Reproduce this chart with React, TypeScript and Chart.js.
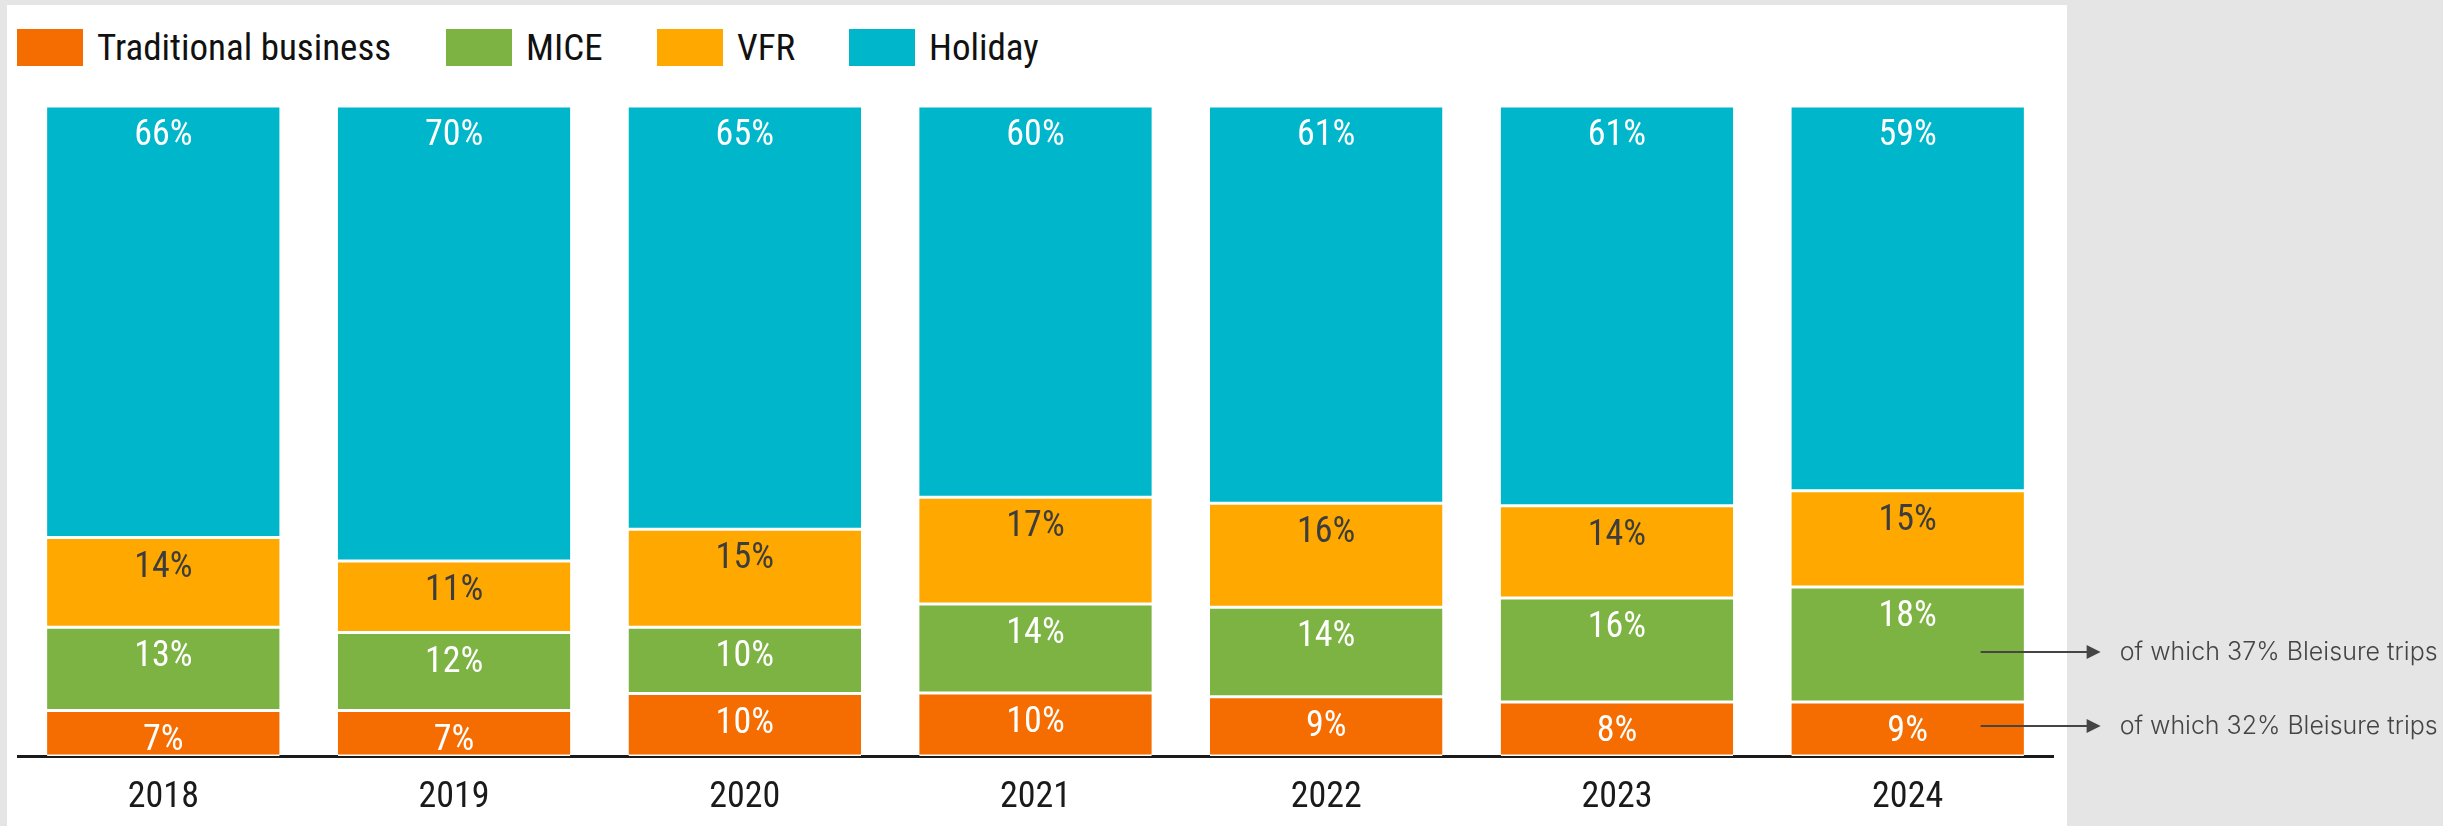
import { useEffect, useRef } from "react";
import { Chart, registerables } from "chart.js";

Chart.register(...registerables);

const years = ["2018", "2019", "2020", "2021", "2022", "2023", "2024"];
const seriesNames = ["Traditional business", "MICE", "VFR", "Holiday"];

// segment sizes (share of trips, %)
const traditional = [7.0, 7.0, 9.6, 9.7, 9.1, 8.3, 8.3];
const mice = [12.8, 12.0, 10.2, 13.7, 13.8, 16.0, 17.7];
const vfr = [13.8, 11.0, 15.1, 16.4, 16.0, 14.2, 14.8];
const holiday = [66.4, 70.0, 65.1, 60.2, 61.1, 61.5, 59.2];

// printed labels (%)
const traditionalLabels = [7, 7, 10, 10, 9, 8, 9];
const miceLabels = [13, 12, 10, 14, 14, 16, 18];
const vfrLabels = [14, 11, 15, 17, 16, 14, 15];
const holidayLabels = [66, 70, 65, 60, 61, 61, 59];

const annotationTexts = ["of which 37% Bleisure trips", "of which 32% Bleisure trips"];
const annotationLevels = [16.0, 4.6];

const colors = ["#F56D00", "#7DB343", "#FFA800", "#00B6CB"];
const labelColors = ["#ffffff", "#ffffff", "#3d3d3d", "#ffffff"];
const NARROW = '"Roboto Condensed", "Liberation Sans", sans-serif';

const legendLeft = [17, 446, 657, 849];

export default function App() {
  const ref = useRef<HTMLCanvasElement | null>(null);

  useEffect(() => {
    if (!ref.current) return;
    const values = [traditional, mice, vfr, holiday];
    const labels = [traditionalLabels, miceLabels, vfrLabels, holidayLabels];

    const dataLabels = {
      id: "dataLabels",
      afterDatasetsDraw(chart: any) {
        const ctx = chart.ctx;
        ctx.save();
        ctx.font = `36px ${NARROW}`;
        ctx.textAlign = "center";
        ctx.textBaseline = "middle";
        chart.data.datasets.forEach((_ds: any, i: number) => {
          const meta = chart.getDatasetMeta(i);
          meta.data.forEach((bar: any, j: number) => {
            ctx.fillStyle = labelColors[i];
            ctx.fillText(`${labels[i][j]}%`, bar.x, bar.y + 30);
          });
        });
        ctx.restore();
      },
    };

    const annotations = {
      id: "annotations",
      afterDraw(chart: any) {
        const ctx = chart.ctx;
        const xs = chart.scales.x;
        const ys = chart.scales.y;
        const cx = xs.getPixelForValue(years.length - 1);
        ctx.save();
        ctx.strokeStyle = "#454545";
        ctx.fillStyle = "#454545";
        ctx.lineWidth = 2;
        ctx.font = `300 25px Inter, "Open Sans", sans-serif`;
        ctx.textBaseline = "middle";
        ctx.textAlign = "left";
        annotationTexts.forEach((t, i) => {
          const y = ys.getPixelForValue(annotationLevels[i]);
          ctx.beginPath();
          ctx.moveTo(cx + 73, y);
          ctx.lineTo(cx + 180, y);
          ctx.stroke();
          ctx.beginPath();
          ctx.moveTo(cx + 179, y - 7);
          ctx.lineTo(cx + 193, y);
          ctx.lineTo(cx + 179, y + 7);
          ctx.closePath();
          ctx.fill();
          (ctx as any).letterSpacing = "0px";
          const w = ctx.measureText(t).width;
          const ls = (318 - w) / (t.length - 1);
          (ctx as any).letterSpacing = `${ls}px`;
          ctx.fillText(t, cx + 212, y);
        });
        ctx.restore();
      },
    };

    const chart = new Chart(ref.current, {
      type: "bar",
      data: {
        labels: years,
        datasets: seriesNames.map((name, i) => ({
          label: name,
          data: values[i],
          backgroundColor: colors[i],
          borderColor: "#ffffff",
          borderWidth: { top: 1.5, bottom: 1.5, left: 0, right: 0 },
          borderSkipped: false,
          barPercentage: 0.8,
          categoryPercentage: 1,
        })),
      },
      options: {
        responsive: false,
        animation: false,
        events: [],
        layout: { padding: { top: 106, left: 18, right: 390, bottom: 0 } },
        plugins: {
          legend: { display: false },
          tooltip: { enabled: false },
        },
        scales: {
          x: {
            stacked: true,
            grid: { display: false, drawTicks: false },
            border: { display: true, color: "#1a1a1a", width: 3 },
            ticks: {
              font: { family: NARROW, size: 36 },
              color: "#1a1a1a",
              padding: 20,
            },
            afterFit: (s: any) => {
              s.height = 70;
            },
          },
          y: {
            stacked: true,
            display: false,
            min: 0,
            max: 100,
          },
        },
      },
      plugins: [dataLabels, annotations],
    });
    return () => chart.destroy();
  }, []);

  return (
    <div
      style={{
        position: "relative",
        width: 2443,
        height: 826,
        background: "#e5e5e5",
        overflow: "hidden",
      }}
    >
      <style>{`html,body{margin:0;padding:0;overflow:hidden;background:#e5e5e5;}`}</style>
      <div
        style={{
          position: "absolute",
          left: 7,
          top: 5,
          width: 2060,
          height: 821,
          background: "#ffffff",
        }}
      />
      {seriesNames.map((name, i) => (
        <div
          key={name}
          style={{
            position: "absolute",
            left: legendLeft[i],
            top: 29,
            height: 37,
            display: "flex",
            alignItems: "center",
            whiteSpace: "nowrap",
          }}
        >
          <div style={{ width: 66, height: 37, background: colors[i] }} />
          <span
            style={{
              marginLeft: 14,
              fontFamily: NARROW,
              fontSize: 37,
              lineHeight: "37px",
              color: "#111111",
            }}
          >
            {name}
          </span>
        </div>
      ))}
      <canvas
        ref={ref}
        width={2443}
        height={826}
        style={{ position: "absolute", left: 0, top: 0, width: 2443, height: 826 }}
      />
    </div>
  );
}
